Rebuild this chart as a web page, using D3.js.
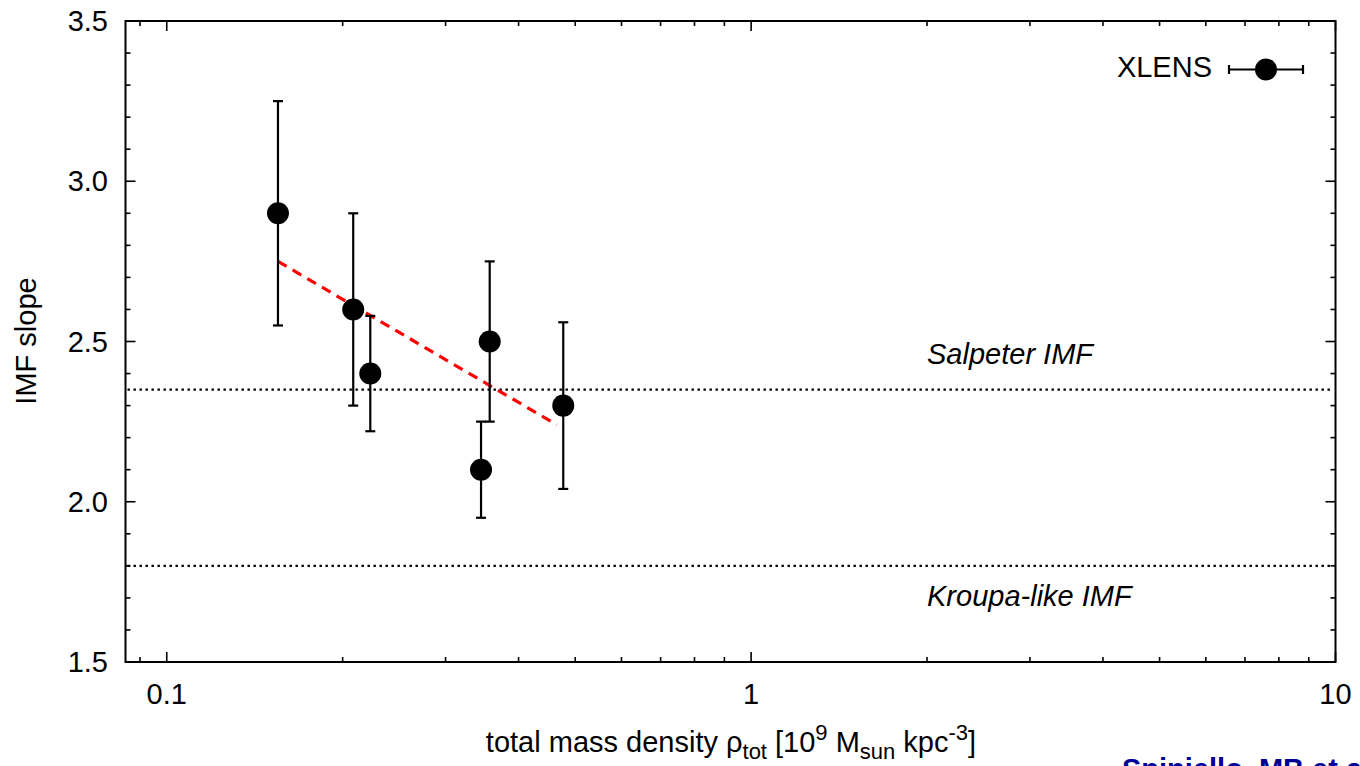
<!DOCTYPE html>
<html>
<head>
<meta charset="utf-8">
<script src="https://cdn.jsdelivr.net/npm/d3@7.9.0/dist/d3.min.js"></script>
<style>
  body { margin: 0; background: #fff; }
  svg { display: block; font-family: "Liberation Sans", Arial, sans-serif; }
</style>
</head>
<body>
<svg id="chart" width="1360" height="766"></svg>
<script>
// data
const rho = [0.155, 0.2085, 0.223, 0.345, 0.357, 0.477];   // total mass density
const slope = [2.9, 2.6, 2.4, 2.1, 2.5, 2.3];             // IMF slope
const slopeLow = [2.55, 2.3, 2.22, 1.95, 2.25, 2.04];
const slopeHigh = [3.25, 2.9, 2.58, 2.25, 2.75, 2.56];

const fitRho = [0.155, 0.465];
const fitSlope = [2.75, 2.24];

const refLines = [2.35, 1.8];
const refLabels = ["Salpeter IMF", "Kroupa-like IMF"];
const refLabelPos = [[2.0, 2.43], [2.0, 1.675]];

const yMajor = [1.5, 2.0, 2.5, 3.0, 3.5];
const xMajor = [0.1, 1, 10];

const margin = { left: 125.5, right: 24.5, top: 21, bottom: 104 };
const W = 1360, H = 766;
const FS = 29;
const svg = d3.select("#chart");

const x = d3.scaleLog().domain([0.085, 10]).range([margin.left, W - margin.right]);
const y = d3.scaleLinear().domain([1.5, 3.5]).range([H - margin.bottom, margin.top]);

const x0 = x.range()[0], x1 = x.range()[1];
const y0 = y.range()[0], y1 = y.range()[1];

// minor/major ticks
let xMinor = x.ticks().filter(d => !xMajor.some(m => Math.abs(m - d) < 1e-9));
let yMinor = d3.range(15, 36).map(d => d / 10).filter(d => !yMajor.some(m => Math.abs(m - d) < 1e-9));

const tickG = svg.append("g").attr("stroke", "#000").attr("stroke-width", 1.6);

// ticks on all four sides, pointing in
[[xMajor, 10], [xMinor, 5]].forEach(([vals, len]) => {
    vals.forEach(v => {
        tickG.append("line").attr("x1", x(v)).attr("x2", x(v)).attr("y1", y0).attr("y2", y0 - len);
        tickG.append("line").attr("x1", x(v)).attr("x2", x(v)).attr("y1", y1).attr("y2", y1 + len);
    });
});
[[yMajor, 10], [yMinor, 5]].forEach(([vals, len]) => {
    vals.forEach(v => {
        tickG.append("line").attr("y1", y(v)).attr("y2", y(v)).attr("x1", x0).attr("x2", x0 + len);
        tickG.append("line").attr("y1", y(v)).attr("y2", y(v)).attr("x1", x1).attr("x2", x1 - len);
    });
});

// frame
svg.append("rect")
    .attr("x", x0).attr("y", y1)
    .attr("width", x1 - x0).attr("height", y0 - y1)
    .attr("fill", "none").attr("stroke", "#000").attr("stroke-width", 2);

// tick labels
svg.append("g").selectAll("text")
    .data(yMajor)
    .join("text")
    .attr("x", 108).attr("y", d => y(d))
    .attr("dy", "0.35em")
    .attr("text-anchor", "end")
    .attr("font-size", FS)
    .text(d3.format(".1f"));

svg.append("g").selectAll("text")
    .data(xMajor)
    .join("text")
    .attr("x", d => x(d)).attr("y", 704)
    .attr("text-anchor", "middle")
    .attr("font-size", FS)
    .text(d => String(d));

// axis titles
const xt = svg.append("text")
    .attr("x", 731).attr("y", 752)
    .attr("text-anchor", "middle")
    .attr("font-size", FS);
xt.append("tspan").text("total mass density \u03c1");
xt.append("tspan").attr("font-size", 22).attr("dy", 7).text("tot");
xt.append("tspan").attr("dy", -7).text(" [10");
xt.append("tspan").attr("font-size", 22).attr("dy", -12).text("9");
xt.append("tspan").attr("dy", 12).text(" M");
xt.append("tspan").attr("font-size", 22).attr("dy", 7).text("sun");
xt.append("tspan").attr("dy", -7).text(" kpc");
xt.append("tspan").attr("font-size", 22).attr("dy", -12).text("-3");
xt.append("tspan").attr("dy", 12).text("]");

svg.append("text")
    .attr("transform", "translate(36,341) rotate(-90)")
    .attr("text-anchor", "middle")
    .attr("font-size", FS)
    .text("IMF slope");

// reference IMF lines
svg.append("g").selectAll("line")
    .data(refLines)
    .join("line")
    .attr("x1", x0 + 2).attr("x2", x1 - 2)
    .attr("y1", d => y(d)).attr("y2", d => y(d))
    .attr("stroke", "#000")
    .attr("stroke-width", 2.4)
    .attr("stroke-dasharray", "2.4,3.6");

svg.append("g").selectAll("text")
    .data(refLabels)
    .join("text")
    .attr("x", (d, i) => x(refLabelPos[i][0]))
    .attr("y", (d, i) => y(refLabelPos[i][1]))
    .attr("font-size", FS)
    .attr("font-style", "italic")
    .text(d => d);

// fit line
svg.append("path")
    .datum(d3.zip(fitRho, fitSlope))
    .attr("d", d3.line().x(d => x(d[0])).y(d => y(d[1])))
    .attr("fill", "none")
    .attr("stroke", "#f00")
    .attr("stroke-width", 3.2)
    .attr("stroke-dasharray", "10,7");

// error bars + points
const pts = rho.map((r, i) => ({ r, s: slope[i], lo: slopeLow[i], hi: slopeHigh[i] }));
const eb = svg.append("g").attr("stroke", "#000").attr("stroke-width", 2.2);
pts.forEach(p => {
    eb.append("line").attr("x1", x(p.r)).attr("x2", x(p.r)).attr("y1", y(p.lo)).attr("y2", y(p.hi));
    eb.append("line").attr("x1", x(p.r) - 5).attr("x2", x(p.r) + 5).attr("y1", y(p.lo)).attr("y2", y(p.lo));
    eb.append("line").attr("x1", x(p.r) - 5).attr("x2", x(p.r) + 5).attr("y1", y(p.hi)).attr("y2", y(p.hi));
});
svg.append("g").selectAll("circle")
    .data(pts)
    .join("circle")
    .attr("cx", d => x(d.r)).attr("cy", d => y(d.s))
    .attr("r", 11)
    .attr("fill", "#000");

// legend
const lg = svg.append("g");
lg.append("text").attr("x", 1212).attr("y", 77).attr("text-anchor", "end")
    .attr("font-size", FS).text("XLENS");
const lgs = lg.append("g").attr("stroke", "#000").attr("stroke-width", 2.2);
lgs.append("line").attr("x1", 1229).attr("x2", 1303).attr("y1", 69.5).attr("y2", 69.5);
lgs.append("line").attr("x1", 1229).attr("x2", 1229).attr("y1", 65).attr("y2", 74);
lgs.append("line").attr("x1", 1303).attr("x2", 1303).attr("y1", 65).attr("y2", 74);
lg.append("circle").attr("cx", 1266).attr("cy", 69.5).attr("r", 11).attr("fill", "#000");

// credit line, cut off by the bottom edge as in the source figure
svg.append("text")
    .attr("x", 1122).attr("y", 779)
    .attr("font-size", FS).attr("font-weight", "bold")
    .attr("fill", "#000099")
    .text("Spiniello, MB et al.");
</script>
</body>
</html>
